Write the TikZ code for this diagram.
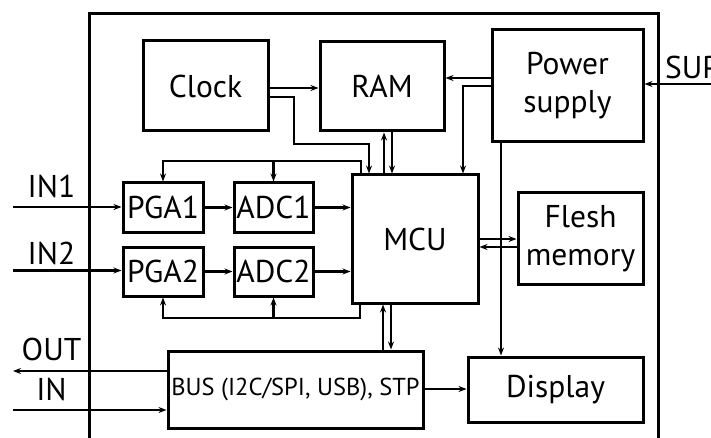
\documentclass[tikz,border=0pt]{standalone}
\usepackage{fontspec}
\setmainfont{PT Sans}
\usetikzlibrary{arrows.meta,calc}
\begin{document}
\begin{tikzpicture}[x=1pt,y=-1pt,
  blk/.style={draw,line width=3pt,inner sep=0pt,align=center,font=\fontsize{31.5}{38}\selectfont},
  lbl/.style={inner sep=0pt,font=\fontsize{31.5}{36}\selectfont},
  wire/.style={line width=2.6pt},
  arr/.style={wire,-{Stealth[length=8pt,width=6pt]}}]
\useasboundingbox (0,0) rectangle (711,438);
\clip (0,0) rectangle (711,438);
% frame
\draw[line width=3pt] (89,440) -- (89,14) -- (658,14) -- (658,440);
% blocks
\node[blk,minimum width=125,minimum height=90] (clock) at (205.5,86) {Clock};
\node[blk,minimum width=124,minimum height=89] (ram) at (382,86.5) {RAM};
\node[blk,minimum width=151,minimum height=112] (pwr) at (567.5,86) {Power\\supply};
\node[blk,minimum width=126,minimum height=128] (mcu) at (415,239) {MCU};
\node[blk,minimum width=80,minimum height=49] (pga1) at (163,207.5) {PGA1};
\node[blk,minimum width=79,minimum height=49] (adc1) at (273.5,207.5) {ADC1};
\node[blk,minimum width=80,minimum height=49] (pga2) at (163,271.5) {PGA2};
\node[blk,minimum width=79,minimum height=49] (adc2) at (273.5,271.5) {ADC2};
\node[blk,minimum width=125,minimum height=91] (flash) at (580.5,238.5) {Flesh\\memory};
\node[blk,minimum width=255,minimum height=77,font=\fontsize{24.5}{28}\selectfont] (bus) at (295.5,389.5) {BUS (I2C/SPI, USB), STP};
\node[blk,minimum width=175,minimum height=65] (disp) at (555.5,389.5) {Display};
% labels
\node[lbl] (in1) at (51.5,186.5) {IN1};
\node[lbl] (in2) at (51.5,253) {IN2};
\node[lbl] (out) at (51.5,349) {OUT};
\node[lbl] (inl) at (51.5,389) {IN};
\node[lbl,anchor=west] (sup) at (665,67) {SUP};
% free ends
\coordinate (e1) at (13,207);
\coordinate (e2) at (13,270.5);
\coordinate (eo) at (13,371);
\coordinate (ei) at (13,410);
\coordinate (es) at (712,84);
% inputs
\draw[arr] (e1) -- (pga1.west |- e1);
\draw[arr] (e2) -- (pga2.west |- e2);
\draw[arr] (bus.west |- eo) -- (eo);
\draw[arr] (ei) -- (bus.west |- ei);
\draw[arr] (es) -- (pwr.east |- es);
% chains
\draw[arr] (pga1) -- (adc1);
\draw[arr] (adc1.east) -- (mcu.west |- adc1.east);
\draw[arr] (pga2) -- (adc2);
\draw[arr] (adc2.east) -- (mcu.west |- adc2.east);
% clock
\draw[arr] (clock.east |- 0,88) -- (ram.west |- 0,88);
\draw[arr] (clock.east |- 0,97) -- (294,97) -- (294,144) -- (369,144) -- (mcu.north -| 369,0);
% power
\draw[arr] (pwr.west |- 0,78) -- (ram.east |- 0,78);
\draw[arr] (pwr.west |- 0,86) -- (463,86) -- (mcu.north -| 463,0);
\draw[arr] (pwr.south -| 501,0) -- (disp.north -| 501,0);
% ram - mcu
\draw[arr] (mcu.north -| 384,0) -- (ram.south -| 384,0);
\draw[arr] (ram.south -| 392,0) -- (mcu.north -| 392,0);
% control buses
\draw[wire] (mcu.north -| 361,0) -- (361,161) -- (162,161);
\draw[arr] (pga1.north |- 0,161) -- (pga1.north);
\draw[arr] (adc1.north |- 0,161) -- (adc1.north);
\draw[wire] (mcu.south -| 360,0) -- (360,318) -- (162,318);
\draw[arr] (pga2.south |- 0,318) -- (pga2.south);
\draw[arr] (adc2.south |- 0,318) -- (adc2.south);
% flash
\draw[arr] (mcu.east |- 0,239) -- (flash.west |- 0,239);
\draw[arr] (flash.west |- 0,247) -- (mcu.east |- 0,247);
% mcu - bus
\draw[arr] (bus.north -| 383,0) -- (mcu.south -| 383,0);
\draw[arr] (mcu.south -| 391,0) -- (bus.north -| 391,0);
% bus - display
\draw[arr] (bus.east |- 0,389) -- (disp.west |- 0,389);
\end{tikzpicture}
\end{document}
